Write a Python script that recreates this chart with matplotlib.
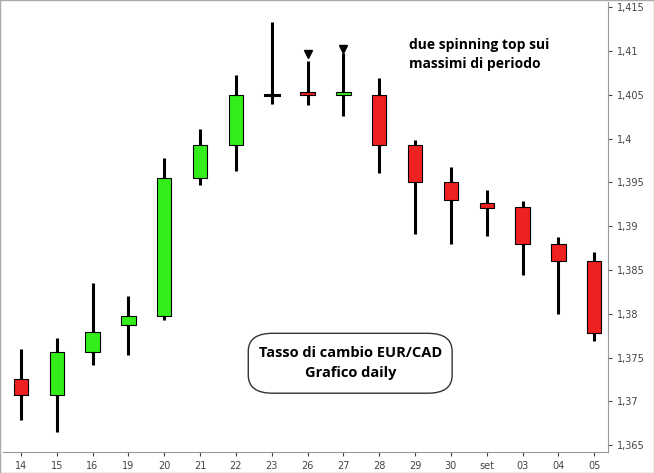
import matplotlib
matplotlib.use("Agg")
import matplotlib.pyplot as plt
from matplotlib.patches import FancyBboxPatch, Rectangle
from matplotlib.ticker import FuncFormatter

labels = ["14","15","16","19","20","21","22","23","26","27","28","29","30","set","03","04","05"]
opens  = [1.3726,1.3707,1.3756,1.3787,1.3797,1.3955,1.3993,1.4050,1.4053,1.4050,1.4050,1.3993,1.3950,1.3926,1.3922,1.3880,1.3860]
closes = [1.3707,1.3756,1.3779,1.3797,1.3955,1.3993,1.4050,1.4050,1.4050,1.4052,1.3993,1.3950,1.3930,1.3921,1.3880,1.3860,1.3778]
highs  = [1.3760,1.3772,1.3835,1.3820,1.3978,1.4011,1.4072,1.4133,1.4089,1.4098,1.4069,1.3998,1.3967,1.3941,1.3929,1.3888,1.3871]
lows   = [1.3679,1.3665,1.3742,1.3753,1.3793,1.3947,1.3963,1.4040,1.4038,1.4026,1.3961,1.3891,1.3880,1.3889,1.3844,1.3800,1.3769]
arrow_idx = [8, 9]
arrow_y = [1.4096, 1.4102]
yticks = [1.365,1.37,1.375,1.38,1.385,1.39,1.395,1.4,1.405,1.41,1.415]

fig = plt.figure(figsize=(6.54,4.73), dpi=100)
ax = fig.add_axes([0.005, 0.044, 0.925, 0.952])
w = 0.4
for i,(o,c,h,l) in enumerate(zip(opens,closes,highs,lows)):
    ax.plot([i,i],[l,h],color="black",lw=2.2,zorder=1,solid_capstyle="butt")
    if o == c:
        ax.plot([i-w/2,i+w/2],[o,o],color="black",lw=2.2,zorder=2)
        continue
    col = "#33ee1a" if c > o else "#ee2020"
    lo = min(o,c); ht = max(abs(c-o),0.0003)
    ax.add_patch(Rectangle((i-w/2, lo), w, ht, facecolor=col, edgecolor="black", lw=0.8, zorder=2))
for i,y in zip(arrow_idx, arrow_y):
    ax.plot(i, y, marker="v", color="black", markersize=6, zorder=3)
ax.set_xlim(-0.49, 16.39)
ax.set_ylim(1.3642, 1.4156)
ax.set_xticks(range(len(labels)))
ax.set_xticklabels(labels)
ax.set_yticks(yticks)
ax.yaxis.set_major_formatter(FuncFormatter(lambda v,p: ("%g" % round(v,3)).replace(".",",")))
ax.yaxis.tick_right()
ax.tick_params(axis="both", labelsize=7, colors="#444444", length=3)
for s in ["top","left"]:
    ax.spines[s].set_visible(False)
for s in ["right","bottom"]:
    ax.spines[s].set_color("#999999")
ax.text(0.67, 0.92, "due spinning top sui\nmassimi di periodo", transform=ax.transAxes,
        fontsize=10, fontweight="bold", family="Open Sans", va="top", ha="left", linespacing=1.5)
box = FancyBboxPatch((0.405, 0.131), 0.337, 0.133, boxstyle="round,pad=0,rounding_size=0.04",
                     transform=ax.transAxes, facecolor="white", edgecolor="#333333", lw=1)
ax.add_patch(box)
ax.text(0.574, 0.198, "Tasso di cambio EUR/CAD\nGrafico daily", transform=ax.transAxes,
        fontsize=10.5, fontweight="bold", family="Open Sans", ha="center", va="center", linespacing=1.5)
fig.patches.append(Rectangle((0,0),1,1,transform=fig.transFigure,fill=False,edgecolor="#aaaaaa",lw=1))
fig.savefig("out.png", dpi=100)
